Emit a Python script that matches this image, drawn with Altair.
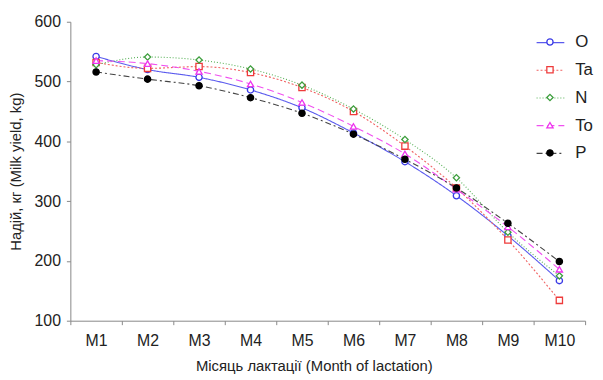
import altair as alt
import pandas as pd

months = ["M1", "M2", "M3", "M4", "M5", "M6", "M7", "M8", "M9", "M10"]
series_names = ["O", "Ta", "N", "To", "P"]
O = [542, 520, 507, 486, 456, 414, 366, 309, 242, 167]
Ta = [532, 522, 525, 515, 490, 450, 392, 322, 235, 134]
N = [528, 541, 536, 521, 494, 454, 403, 339, 248, 175]
To = [535, 530, 517, 496, 465, 425, 379, 320, 257, 186]
P = [516, 504, 493, 473, 447, 412, 370, 322, 263, 199]

values = {"O": O, "Ta": Ta, "N": N, "To": To, "P": P}
marker_names = [s + " " for s in series_names]
rows = []
for s, s2 in zip(series_names, marker_names):
    for m, v in zip(months, values[s]):
        rows.append({"Month": m, "Yield": v, "Series": s, "S2": s2})
df = pd.DataFrame(rows)

colors = ["#3a3ae6", "#ee3b3b", "#3c9e3c", "#ee33ee", "#000000"]
line_colors = ["#5a5aee", "#f06060", "#55b055", "#f050f0", "#444444"]
dashes = [[1, 0], [2, 2], [1, 2], [7, 4], [6, 3, 2, 3]]
shapes = ["circle", "square", "diamond", "triangle-up", "circle"]
fills = ["white", "white", "white", "white", "black"]

x = alt.X("Month:N", sort=months, scale=alt.Scale(type="band", paddingInner=0, paddingOuter=0),
          axis=alt.Axis(title="Місяць лактації (Month of lactation)", labelAngle=0,
                        tickBand="extent", titleX=246, titleFontSize=15))
y = alt.Y("Yield:Q", scale=alt.Scale(domain=[100, 600], nice=False, zero=False),
          axis=alt.Axis(title="Надій, кг (Milk yield, kg)", values=[100, 200, 300, 400, 500, 600],
                        grid=False, titlePadding=11))

lines = alt.Chart(df).mark_line(strokeWidth=1.1, interpolate="monotone").encode(
    x=x, y=y,
    color=alt.Color("Series:N", sort=series_names, scale=alt.Scale(domain=series_names, range=line_colors),
                    legend=alt.Legend(title=None, orient="none", legendX=470, legendY=6,
                                      symbolType="stroke", symbolSize=784, symbolStrokeWidth=1.2,
                                      labelFontSize=17, rowPadding=5, labelOffset=10)),
    strokeDash=alt.StrokeDash("Series:N", sort=series_names,
                              scale=alt.Scale(domain=series_names, range=dashes)),
)

points = alt.Chart(df).mark_point(size=40, strokeWidth=1.3, filled=False, fillOpacity=1, opacity=1).encode(
    x=x, y=y,
    stroke=alt.Stroke("S2:N", sort=marker_names, scale=alt.Scale(domain=marker_names, range=colors),
                      legend=alt.Legend(title=None, orient="none", legendX=476, legendY=12,
                                        symbolSize=40, symbolStrokeWidth=1.3,
                                        labelFontSize=17, rowPadding=10, labelOffset=10,
                                        labelExpr="''")),
    shape=alt.Shape("S2:N", sort=marker_names, scale=alt.Scale(domain=marker_names, range=shapes)),
    fill=alt.Fill("S2:N", sort=marker_names, scale=alt.Scale(domain=marker_names, range=fills)),
)

chart = alt.layer(lines, points).properties(
    width=520, height=302,
    padding={"left": 63, "top": 12, "right": 10, "bottom": 56},
    autosize=alt.AutoSizeParams(type="none"),
).configure_view(stroke=None).configure_axis(
    labelFont="Liberation Sans", titleFont="Liberation Sans", labelFontSize=16, titleFontSize=15,
    titleFontWeight="normal", labelColor="#222222", titleColor="#222222",
    domainColor="#888888", tickColor="#888888", tickSize=4, labelPadding=6,
).configure_axisX(labelPadding=8, titlePadding=10).configure_legend(
    labelFont="Liberation Sans", labelColor="#222222"
)

chart.save("out.html", embed_options={"renderer": "svg", "actions": False})
